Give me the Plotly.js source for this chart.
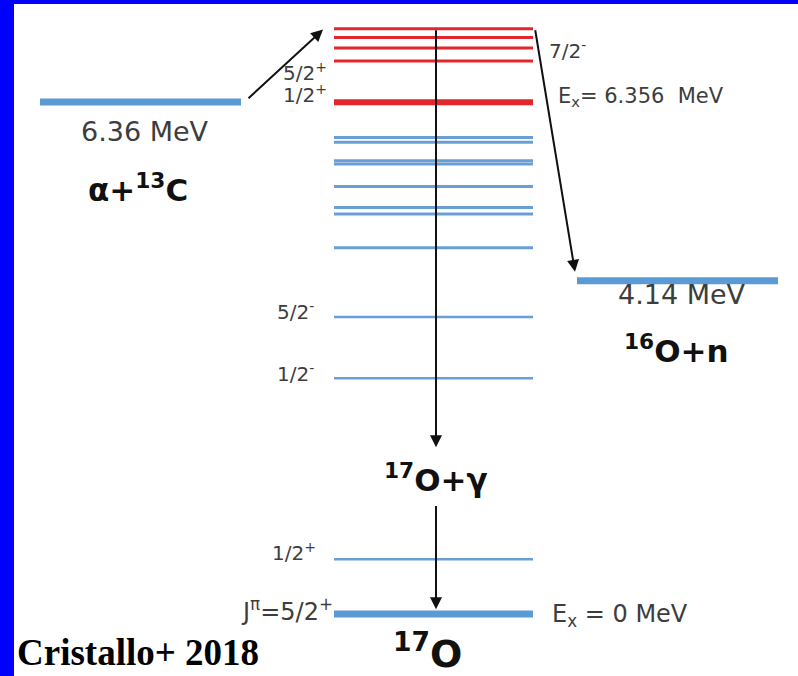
<!DOCTYPE html>
<html>
<head>
<meta charset="utf-8">
<script src="https://cdn.plot.ly/plotly-3.0.1.min.js"></script>
<style>
  html, body { margin: 0; padding: 0; background: #ffffff; }
  #chart { width: 798px; height: 676px; }
</style>
</head>
<body>
<div id="chart"></div>
<script>
// Level scheme of 17O around the alpha + 13C threshold (energies in MeV).
const resonanceLevel = 6.356;                  // 1/2+ sub-threshold state
const redLevels      = [6.87, 7.03, 7.16, 7.27]; // states above the alpha threshold
const blueLevels     = [4.55, 4.97, 5.05, 5.31, 5.59, 5.63, 5.86, 5.92];
const lowLevels      = [0.68, 2.93, 3.69];     // 1/2+, 1/2-, 5/2-
const lowSpins       = ['1/2<sup>+</sup>', '1/2<sup>-</sup>', '5/2<sup>-</sup>'];
const groundLevel    = 0;
const alphaThreshold = 6.36;                   // alpha + 13C
const neutronThreshold = 4.14;                 // 16O + n

// Column extents in page pixels (x axis spans the page width).
const colCenter  = [334, 533];
const colAlpha   = [40, 241];
const colNeutron = [577, 778];
const gammaX = 436;

const GREY = '#3d3d3d';
const BLUE = '#6a9fd4';
const BLUE_THICK = '#5b9bd5';
const RED = '#e3262c';

function segments(levels, x) {
  const xs = [], ys = [];
  levels.forEach(e => { xs.push(x[0], x[1], null); ys.push(e, e, null); });
  return { x: xs, y: ys };
}
function levelTrace(levels, x, color, width) {
  const s = segments(levels, x);
  return { type: 'scatter', mode: 'lines', x: s.x, y: s.y,
           line: { color: color, width: width }, hoverinfo: 'skip', showlegend: false };
}

const traces = [
  levelTrace(blueLevels, colCenter, BLUE, 3),
  levelTrace(lowLevels, colCenter, BLUE, 2.5),
  levelTrace(redLevels, colCenter, RED, 3),
  levelTrace([resonanceLevel], colCenter, RED, 6),
  levelTrace([groundLevel], colCenter, BLUE_THICK, 7),
  levelTrace([alphaThreshold], colAlpha, BLUE_THICK, 7),
  levelTrace([neutronThreshold], colNeutron, BLUE_THICK, 7)
];

const topRed = Math.max(...redLevels);

function arrow(x0, y0, x1, y1) {
  return { x: x1, y: y1, ax: x0, ay: y0, xref: 'x', yref: 'y', axref: 'x', ayref: 'y',
           text: '', showarrow: true, arrowhead: 2, arrowsize: 1.2, arrowwidth: 2,
           arrowcolor: '#111111', standoff: 0, startstandoff: 0 };
}
const fSpin = { family: 'DejaVu Sans, sans-serif', size: 20, color: GREY };
function label(text, x, y, opts) {
  return Object.assign({ text: text, x: x, y: y, xref: 'x', yref: 'y', showarrow: false,
           xanchor: 'center', yanchor: 'middle', font: fSpin }, opts || {});
}
const fBig = { family: 'DejaVu Sans, sans-serif', size: 31, color: '#111111', weight: 'bold' };
const fMev = { family: 'DejaVu Sans, sans-serif', size: 27, color: GREY };

const annotations = [
  // transitions
  arrow(247, alphaThreshold + 0.03, 323, topRed - 0.01),
  arrow(colCenter[1] + 2, topRed, 575, neutronThreshold + 0.11),
  arrow(gammaX, topRed, gammaX, 2.07),
  arrow(gammaX, 1.36, gammaX, groundLevel + 0.06),

  // spin / parity labels
  label('7/2<sup>-</sup>', 547, redLevels[1], { xanchor: 'left', yshift: -2 }),
  label('5/2<sup>+</sup>', 329, resonanceLevel, { xanchor: 'right', yshift: 30 }),
  label('1/2<sup>+</sup>', 329, resonanceLevel, { xanchor: 'right', yshift: 8 }),
  label('E<sub>x</sub>= 6.356  MeV', 556, resonanceLevel,
        { xanchor: 'left', yshift: 5, font: { family: 'DejaVu Sans, sans-serif', size: 21, color: GREY } }),
  label(lowSpins[2], 316, lowLevels[2], { xanchor: 'right', yshift: 6 }),
  label(lowSpins[1], 316, lowLevels[1], { xanchor: 'right', yshift: 5 }),
  label(lowSpins[0], 318, lowLevels[0], { xanchor: 'right', yshift: 7 }),
  label('J<sup>π</sup>=5/2<sup>+</sup>', 335, groundLevel,
        { xanchor: 'right', yshift: 4, font: { family: 'DejaVu Sans, sans-serif', size: 24, color: GREY } }),
  label('E<sub>x</sub> = 0 MeV', 550, groundLevel,
        { xanchor: 'left', yshift: -1, font: { family: 'DejaVu Sans, sans-serif', size: 24, color: GREY } }),

  // thresholds
  label(alphaThreshold.toFixed(2) + ' MeV', 145, alphaThreshold, { yshift: -29, font: fMev }),
  label('α+<sup>13</sup>C', 138, alphaThreshold, { yshift: -86, font: fBig }),
  label(neutronThreshold.toFixed(2) + ' MeV', 682, neutronThreshold, { yshift: -14, font: fMev }),
  label('<sup>16</sup>O+n', 676, neutronThreshold, { yshift: -68, font: fBig }),

  // channel names
  { text: '<sup>17</sup>O+γ', x: gammaX, y: 1 - 478 / 676, xref: 'x', yref: 'paper',
    showarrow: false, xanchor: 'center', yanchor: 'middle', font: fBig },
  { text: '<sup>17</sup>O', x: 427, y: 1 - 651 / 676, xref: 'x', yref: 'paper',
    showarrow: false, xanchor: 'center', yanchor: 'middle',
    font: { family: 'DejaVu Sans, sans-serif', size: 38, color: '#111111', weight: 'bold' } },

  // credit
  { text: '<b>Cristallo+ 2018</b>', x: 15 / 798, y: 1 - 652 / 676, xref: 'paper', yref: 'paper',
    showarrow: false, xanchor: 'left', yanchor: 'middle',
    font: { family: 'Liberation Serif, Times New Roman, serif', size: 37, color: '#000000' } }
];

const layout = {
  width: 798, height: 676,
  margin: { l: 0, r: 0, t: 0, b: 0, pad: 0 },
  paper_bgcolor: '#ffffff', plot_bgcolor: '#ffffff',
  showlegend: false,
  xaxis: { range: [0, 798], visible: false, fixedrange: true },
  yaxis: { range: [-0.770, 7.627], visible: false, fixedrange: true },
  shapes: [
    { type: 'rect', xref: 'paper', yref: 'paper', x0: 0, x1: 14 / 798, y0: 0, y1: 1,
      fillcolor: '#0000ff', line: { width: 0 }, layer: 'above' },
    { type: 'rect', xref: 'paper', yref: 'paper', x0: 0, x1: 1, y0: 1 - 4 / 676, y1: 1,
      fillcolor: '#0000ff', line: { width: 0 }, layer: 'above' }
  ],
  annotations: annotations
};

Plotly.newPlot('chart', traces, layout, { staticPlot: true, displayModeBar: false });
</script>
</body>
</html>
